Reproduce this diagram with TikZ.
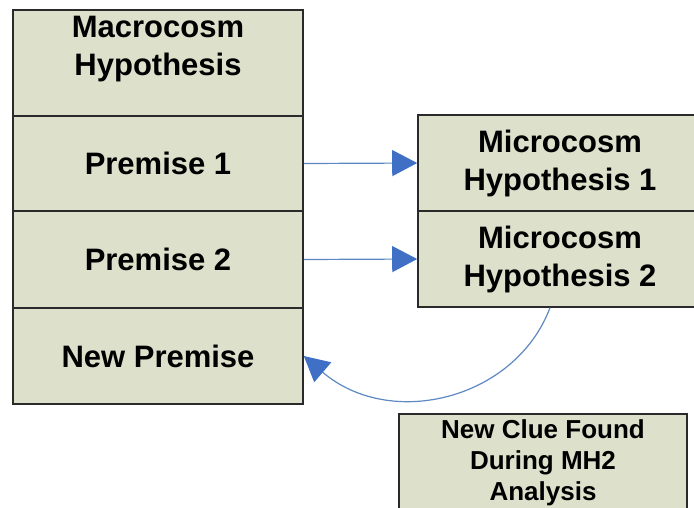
\documentclass[tikz,border=0pt]{standalone}
\usepackage{fontspec}
\setmainfont{Liberation Sans}
\usetikzlibrary{arrows.meta,calc}
\definecolor{boxfill}{HTML}{DDE0CB}
\definecolor{edgecol}{HTML}{2A2A2A}
\definecolor{lineblue}{HTML}{5E88C2}
\definecolor{tipblue}{HTML}{3F70C6}
\begin{document}
\begin{tikzpicture}[x=1pt,y=-1pt,
  box/.style={draw=edgecol,line width=1.6pt,fill=boxfill,inner sep=0pt,align=center,
    font=\bfseries\fontsize{31}{38}\selectfont},
  smallbox/.style={box,font=\bfseries\fontsize{26}{31}\selectfont},
  conn/.style={draw=lineblue,line width=1.2pt,
    -{Triangle[length=25pt,width=26pt,color=tipblue,fill=tipblue]}}]
\path[use as bounding box] (0,0) rectangle (694,507);
\clip (0,0) rectangle (694,507);
% left column
\node[box,minimum width=290pt,minimum height=106pt] (macro) at (158,63) {};
\node[anchor=north,align=center,inner sep=0pt,font=\bfseries\fontsize{31}{38}\selectfont] (macrotext) at (158,16) {Macrocosm\\Hypothesis};
\node[box,minimum width=290pt,minimum height=95pt] (p1) at (158,163.5) {Premise 1};
\node[box,minimum width=290pt,minimum height=97pt] (p2) at (158,259.5) {Premise 2};
\node[box,minimum width=290pt,minimum height=96pt] (np) at (158,356) {New Premise};
% right column
\node[box,minimum width=284pt,minimum height=96pt] (mh1) at (560,163) {Microcosm\\Hypothesis 1};
\node[box,minimum width=284pt,minimum height=96pt] (mh2) at (560,259) {Microcosm\\Hypothesis 2};
% clue
\node[smallbox,minimum width=288pt,minimum height=97pt] (clue) at (543,462.5) {New Clue Found\\During MH2\\Analysis};
% connectors
\draw[conn] (p1.east) -- (mh1.west);
\draw[conn] (p2.east) -- (mh2.west);
\coordinate (cstart) at ($(mh2.south)+(-10,0)$);
\draw[conn] (cstart) .. controls (515,400) and (390,430) .. (np.east);
\end{tikzpicture}
\end{document}
